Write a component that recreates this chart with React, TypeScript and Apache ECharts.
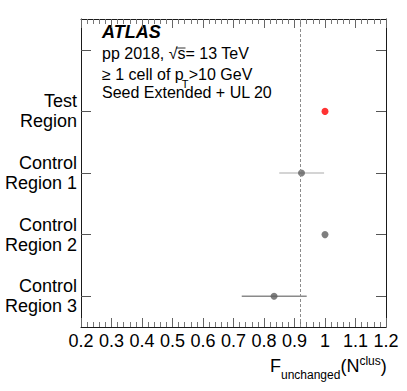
import React, { useEffect, useRef } from "react";
import * as echarts from "echarts";

const categories = ["Control\nRegion 3", "Control\nRegion 2", "Control\nRegion 1", "Test\nRegion", ""];
const xTicks = { min: 0.2, max: 1.2, interval: 0.1 };
// [categoryIndex, central value]
const grayPoints = [
  [2, 0.923],
  [1, 1.0],
  [0, 0.833],
];
const redPoints = [[3, 1.0]];
// [categoryIndex, low, high]
const errorBars = [
  [2, 0.85, 0.997],
  [0, 0.727, 0.94],
];
const errorColors = ["#c6c6c6", "#8a8a8a"];
const referenceLine = 0.92;
const FONT = "Liberation Sans, Arial, Helvetica, sans-serif";

function measure(text: string, size: number, weight = "normal", style = "normal"): number {
  const c = document.createElement("canvas").getContext("2d")!;
  c.font = `${style} ${weight} ${size}px ${FONT}`;
  return c.measureText(text).width;
}

export default function App() {
  const ref = useRef<HTMLDivElement>(null);
  useEffect(() => {
    document.body.style.margin = "0";
    const chart = echarts.init(ref.current!, undefined, { renderer: "svg" });

    // y given as baseline; converted to top of the text box
    const txt = (x: number, baseline: number, text: string, size: number, extra: any = {}) => ({
      type: "text",
      x,
      y: baseline - 0.92 * size,
      style: {
        text,
        fill: "#000",
        font: `${extra.fontStyle || "normal"} ${extra.fontWeight || "normal"} ${size}px ${FONT}`,
        verticalAlign: "top",
        align: "left",
      },
    });

    const l3a = "\u2265 1 cell of p";
    const l3aW = measure(l3a, 16);
    const l3b = ">10 GeV";
    const tx0 = 270;
    const fW = measure("F", 18);
    const subW = measure("unchanged", 12);
    const nW = measure("(N", 18);
    const supW = measure("clus", 12);
    const ppA = "pp 2018, \u221A";
    const ppAW = measure(ppA, 16);
    const sW = measure("s", 16);

    chart.setOption({
      animation: false,
      grid: { left: 81, right: 21, top: 19, bottom: 64 },
      xAxis: [
        {
          type: "value",
          min: xTicks.min,
          max: xTicks.max,
          interval: xTicks.interval,
          position: "bottom",
          axisLine: { show: true, lineStyle: { color: "#1a1a1a", width: 1 } },
          axisTick: { show: true, inside: true, length: 9, lineStyle: { color: "#666" } },
          minorTick: { show: true, splitNumber: 5, length: 5, lineStyle: { color: "#777" } },
          splitLine: { show: false },
          axisLabel: { fontSize: 18, color: "#000", fontFamily: FONT, margin: 5, showMinLabel: true, showMaxLabel: true },
        },
        {
          type: "value",
          min: xTicks.min,
          max: xTicks.max,
          interval: xTicks.interval,
          position: "top",
          axisLine: { show: true, lineStyle: { color: "#1a1a1a", width: 1 } },
          axisTick: { show: true, inside: true, length: 9, lineStyle: { color: "#666" } },
          minorTick: { show: true, splitNumber: 5, length: 5, lineStyle: { color: "#777" } },
          splitLine: { show: false },
          axisLabel: { show: false },
        },
      ],
      yAxis: [
        {
          type: "category",
          data: categories,
          position: "left",
          axisLine: { show: true, lineStyle: { color: "#1a1a1a", width: 1 } },
          axisTick: { show: true, inside: true, length: 10, alignWithLabel: true, lineStyle: { color: "#555" } },
          axisLabel: {
            fontSize: 18,
            lineHeight: 20,
            color: "#000",
            fontFamily: FONT,
            align: "right",
            margin: 4,
            interval: 0,
          },
          splitLine: { show: false },
        },
        {
          type: "category",
          data: categories,
          position: "right",
          axisLine: { show: true, lineStyle: { color: "#1a1a1a", width: 1 } },
          axisTick: { show: true, inside: true, length: 10, alignWithLabel: true, lineStyle: { color: "#555" } },
          axisLabel: { show: false },
          splitLine: { show: false },
        },
      ],
      series: [
        {
          type: "custom",
          xAxisIndex: 0,
          yAxisIndex: 0,
          data: errorBars.map((d, i) => [d[1], d[0], d[2], i]),
          renderItem: (params: any, api: any) => {
            const y = api.value(1);
            const p1 = api.coord([api.value(0), y]);
            const p2 = api.coord([api.value(2), y]);
            return {
              type: "line",
              shape: { x1: p1[0], y1: p1[1], x2: p2[0], y2: p2[1] },
              style: { stroke: errorColors[api.value(3)], lineWidth: 1.6 },
            };
          },
        },
        {
          type: "scatter",
          xAxisIndex: 0,
          yAxisIndex: 0,
          symbol: "circle",
          symbolSize: 7,
          itemStyle: { color: "#5f5f5f" },
          data: grayPoints.map((d) => [d[1], d[0]]),
          markLine: {
            silent: true,
            symbol: "none",
            label: { show: false },
            lineStyle: { type: [3, 2], color: "#8c8c8c", width: 1 },
            data: [{ xAxis: referenceLine }],
          },
        },
        {
          type: "scatter",
          xAxisIndex: 0,
          yAxisIndex: 0,
          symbol: "circle",
          symbolSize: 7,
          itemStyle: { color: "#ff0000" },
          data: redPoints.map((d) => [d[1], d[0]]),
        },
      ],
      graphic: [
        txt(102, 40, "ATLAS", 18, { fontWeight: "bold", fontStyle: "italic" }),
        txt(102, 60.5, "pp 2018, \u221As= 13 TeV", 16),
        {
          type: "line",
          shape: { x1: 102 + ppAW - 1, y1: 48, x2: 102 + ppAW + sW, y2: 48 },
          style: { stroke: "#000", lineWidth: 0.8 },
        },
        txt(102, 81, l3a, 16),
        txt(102 + l3aW - 2, 89, "T", 11),
        txt(102 + l3aW + 5, 81, l3b, 16),
        txt(102, 99, "Seed Extended + UL 20", 16),
        txt(tx0, 374, "F", 18),
        txt(tx0 + fW, 380, "unchanged", 12),
        txt(tx0 + fW + subW, 374, "(N", 18),
        txt(tx0 + fW + subW + nW, 366, "clus", 12),
        txt(tx0 + fW + subW + nW + supW, 374, ")", 18),
      ],
    });
    return () => chart.dispose();
  }, []);
  return <div ref={ref} style={{ width: 407, height: 391 }} />;
}
